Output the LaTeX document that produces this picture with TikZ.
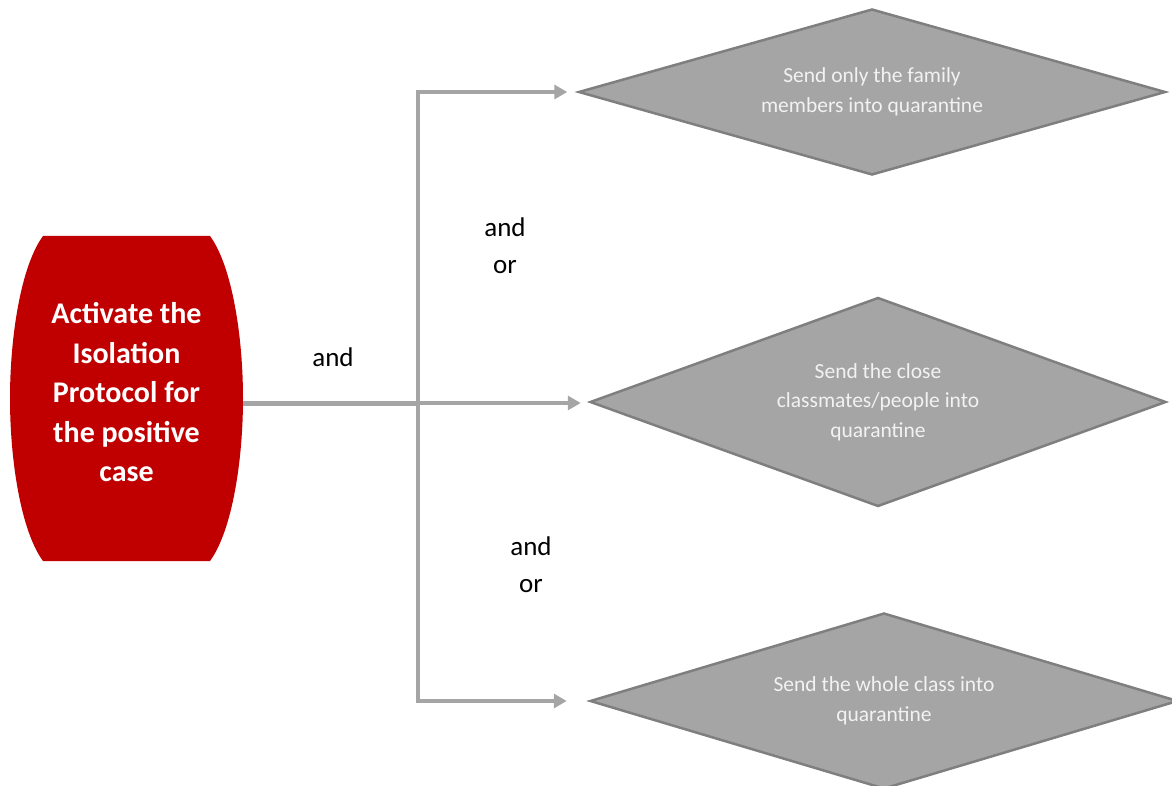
\documentclass[tikz,border=0pt]{standalone}
\usepackage{fontspec}
\setmainfont{Carlito}
\usetikzlibrary{shapes.geometric,arrows.meta,calc,backgrounds}
\definecolor{redfill}{HTML}{C00000}
\definecolor{dgray}{HTML}{A5A5A5}
\definecolor{dline}{HTML}{7F7F7F}
\definecolor{arrowgray}{HTML}{A5A5A5}
\definecolor{txtw}{HTML}{F2F2F2}
\begin{document}
\begin{tikzpicture}[x=1pt,y=-1pt,
  decision/.style={diamond, aspect=3.5, fill=dgray, draw=dline, line width=2.5pt, inner sep=0pt,
    text=txtw, align=center, font=\fontsize{21.5}{29.5}\selectfont},
  lbltext/.style={align=center, font=\fontsize{27}{37}\selectfont, text=black},
  acttext/.style={text=white, align=center, font=\bfseries\fontsize{30}{39.5}\selectfont, yshift=6pt},
  actshape/.style={minimum width=233pt, minimum height=325pt, inner sep=0pt},
  conn/.style={draw=arrowgray, line width=3.3pt},
  arr/.style={conn, -{Triangle[length=13pt,width=14pt]}},
]
\useasboundingbox (0,0) rectangle (1172,786);
\clip (0,0) rectangle (1172,786);

\node[decision, minimum width=587pt, minimum height=166pt] (d1) at (872,92)
  {Send only the family\\members into quarantine};
\node[decision, minimum width=576pt, minimum height=209pt] (d2) at (878,402)
  {Send the close\\classmates/people into\\quarantine};
\node[decision, minimum width=588pt, minimum height=176pt] (d3) at (884,701)
  {Send the whole class into\\quarantine};

\node[actshape, label={[acttext]center:Activate the\\Isolation\\Protocol for\\the positive\\case}] (act) at (126.5,398.5) {};
\begin{scope}[on background layer, shift={(act.center)}]
  \fill[redfill] (-83.5,-162.5) -- (83.5,-162.5)
    .. controls (105.5,-132.5) and (116.5,-62.5) .. (116.5,0)
    .. controls (116.5,62.5) and (105.5,132.5) .. (83.5,162.5)
    -- (-83.5,162.5)
    .. controls (-105.5,132.5) and (-116.5,62.5) .. (-116.5,0)
    .. controls (-116.5,-62.5) and (-105.5,-132.5) .. (-83.5,-162.5) -- cycle;
\end{scope}

\coordinate (J) at (418,403);
\draw[conn, line width=5pt] (act.east |- J) -- (J);
\draw[arr, shorten >=8pt] (J) -- (J -| d2.west);
\draw[arr, shorten >=10pt] (J) |- (d1.west);
\draw[arr, shorten >=22pt] (J) |- (d3.west);

\node[lbltext, anchor=base] (l0) at (333,366) {and};
\node[lbltext] (l1) at (505,246) {and\\or};
\node[lbltext] (l2) at (531,565) {and\\or};
\end{tikzpicture}
\end{document}
